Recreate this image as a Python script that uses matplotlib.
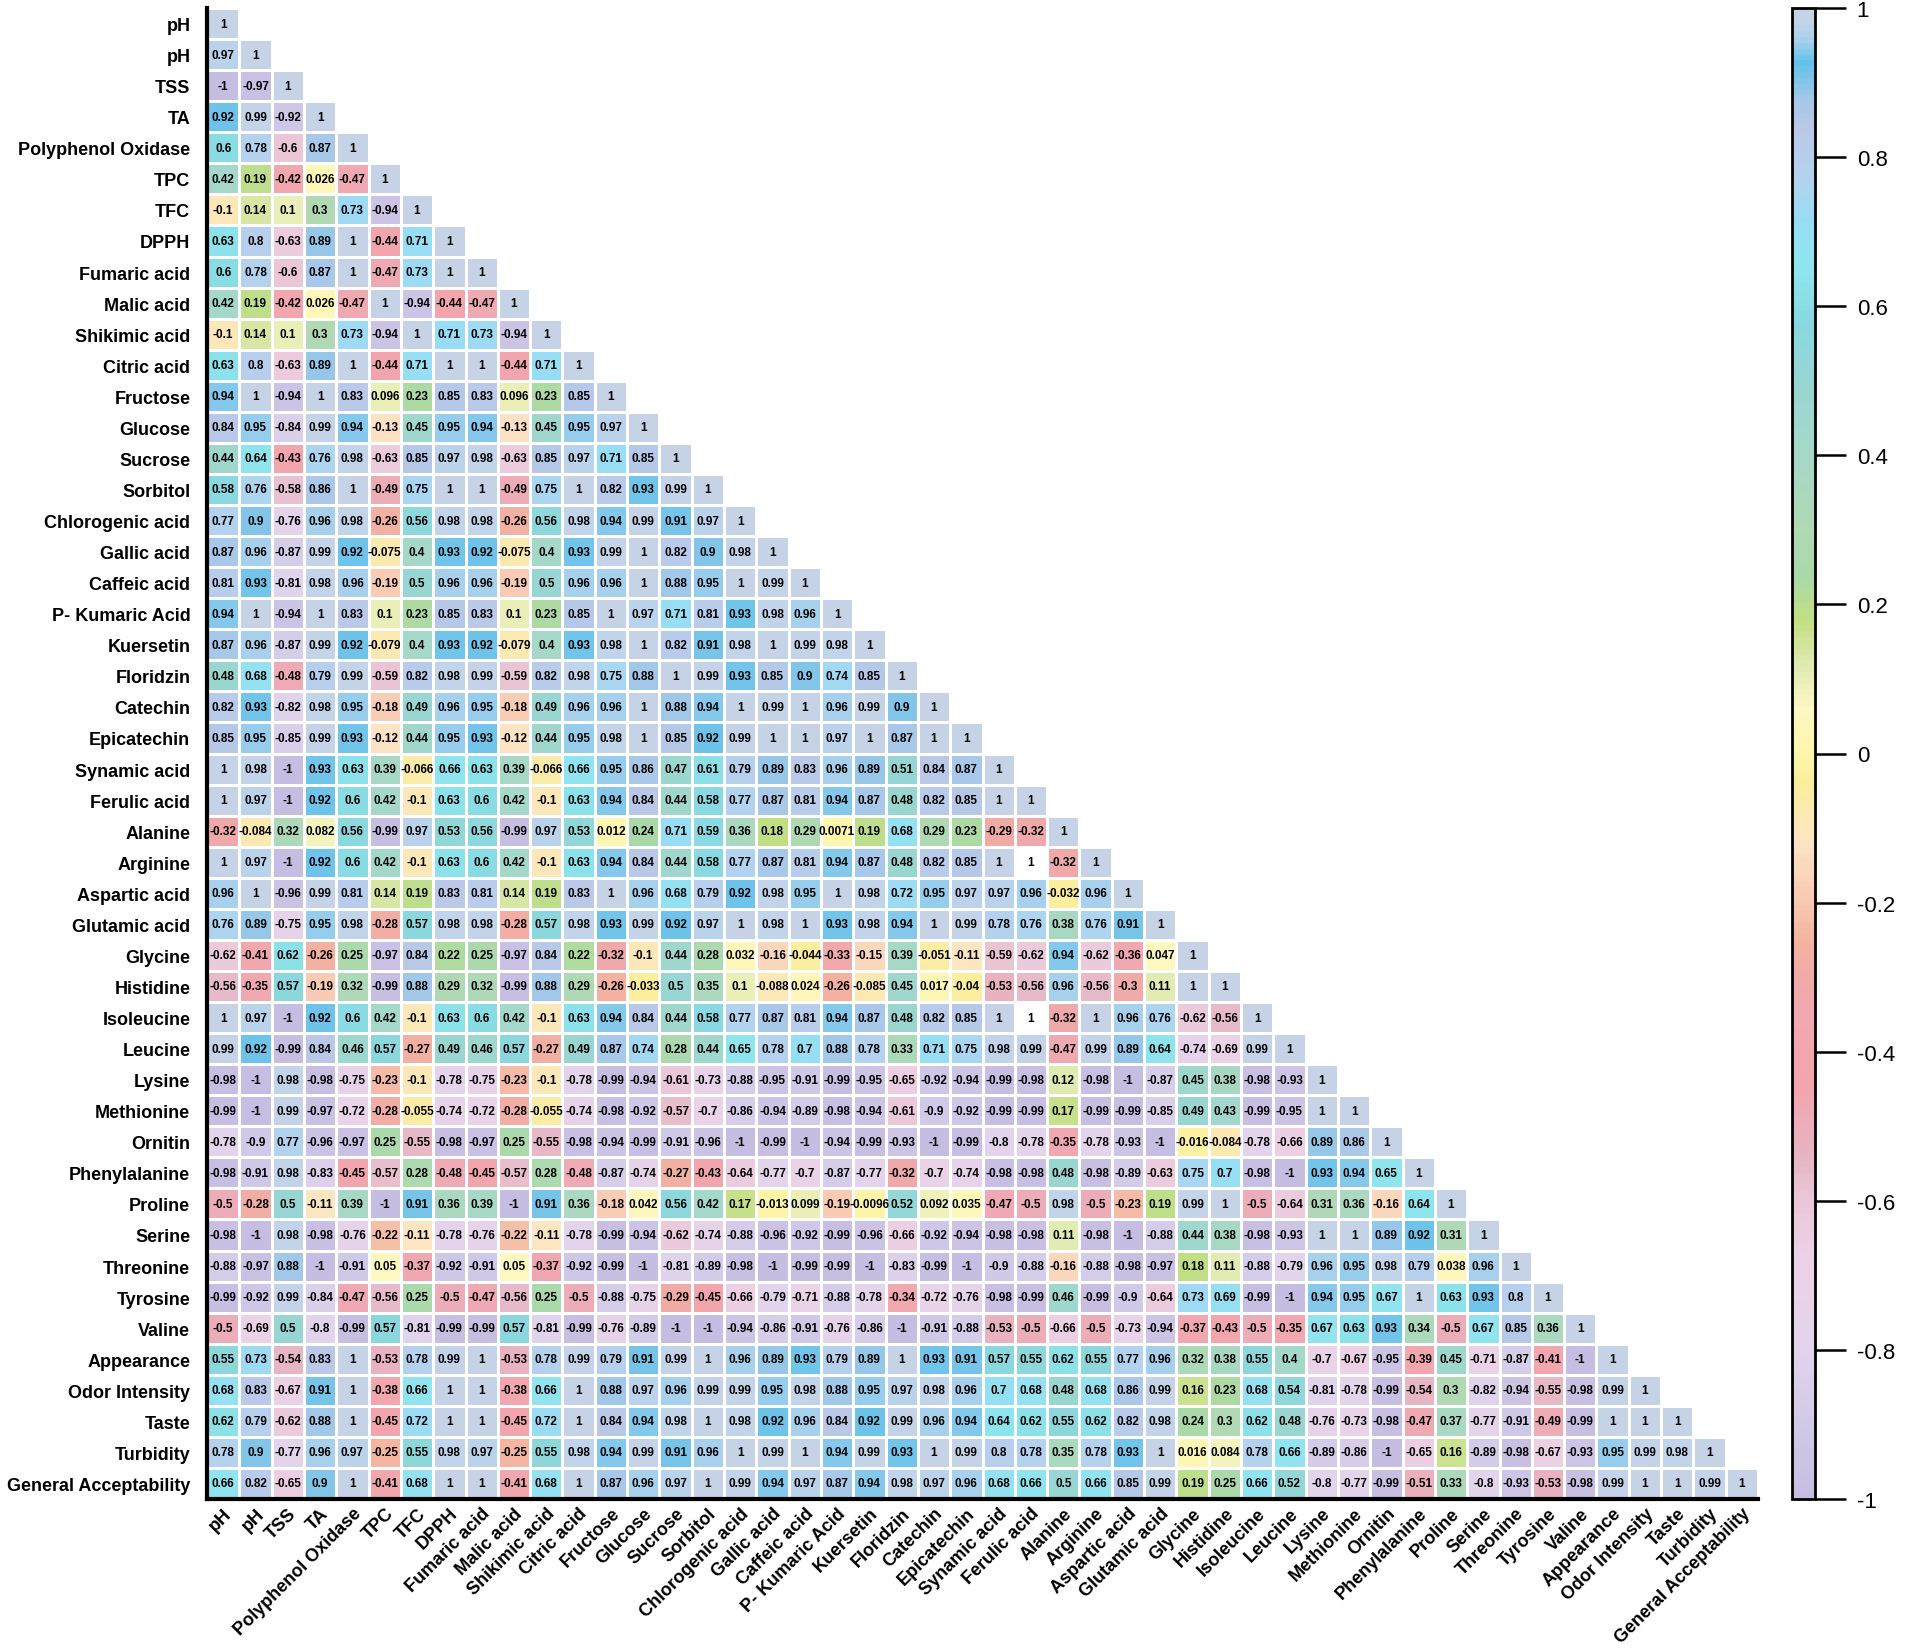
import numpy as np
import matplotlib
matplotlib.use("Agg")
import matplotlib.pyplot as plt
from matplotlib.colors import LinearSegmentedColormap

plt.rcParams['font.family'] = ['Liberation Sans', 'DejaVu Sans']
plt.rcParams['axes.unicode_minus'] = False

labels = ["pH", "pH", "TSS", "TA", "Polyphenol Oxidase", "TPC", "TFC", "DPPH",
          "Fumaric acid", "Malic acid", "Shikimic acid", "Citric acid", "Fructose",
          "Glucose", "Sucrose", "Sorbitol", "Chlorogenic acid", "Gallic acid",
          "Caffeic acid", "P- Kumaric Acid", "Kuersetin", "Floridzin", "Catechin",
          "Epicatechin", "Synamic acid", "Ferulic acid", "Alanine", "Arginine",
          "Aspartic acid", "Glutamic acid", "Glycine", "Histidine", "Isoleucine",
          "Leucine", "Lysine", "Methionine", "Ornitin", "Phenylalanine", "Proline",
          "Serine", "Threonine", "Tyrosine", "Valine", "Appearance", "Odor Intensity",
          "Taste", "Turbidity", "General Acceptability"]

# lower triangle, row by row (diagonal included)
rows_01_12 = [
    [1],
    [0.97, 1],
    [-1, -0.97, 1],
    [0.92, 0.99, -0.92, 1],
    [0.6, 0.78, -0.6, 0.87, 1],
    [0.42, 0.19, -0.42, 0.026, -0.47, 1],
    [-0.1, 0.14, 0.1, 0.3, 0.73, -0.94, 1],
    [0.63, 0.8, -0.63, 0.89, 1, -0.44, 0.71, 1],
    [0.6, 0.78, -0.6, 0.87, 1, -0.47, 0.73, 1, 1],
    [0.42, 0.19, -0.42, 0.026, -0.47, 1, -0.94, -0.44, -0.47, 1],
    [-0.1, 0.14, 0.1, 0.3, 0.73, -0.94, 1, 0.71, 0.73, -0.94, 1],
    [0.63, 0.8, -0.63, 0.89, 1, -0.44, 0.71, 1, 1, -0.44, 0.71, 1],
]

rows_13_24 = [
    [0.94, 1, -0.94, 1, 0.83, 0.096, 0.23, 0.85, 0.83, 0.096, 0.23, 0.85, 1],
    [0.84, 0.95, -0.84, 0.99, 0.94, -0.13, 0.45, 0.95, 0.94, -0.13, 0.45, 0.95, 0.97, 1],
    [0.44, 0.64, -0.43, 0.76, 0.98, -0.63, 0.85, 0.97, 0.98, -0.63, 0.85, 0.97, 0.71, 0.85, 1],
    [0.58, 0.76, -0.58, 0.86, 1, -0.49, 0.75, 1, 1, -0.49, 0.75, 1, 0.82, 0.93, 0.99, 1],
    [0.77, 0.9, -0.76, 0.96, 0.98, -0.26, 0.56, 0.98, 0.98, -0.26, 0.56, 0.98, 0.94, 0.99, 0.91,
     0.97, 1],
    [0.87, 0.96, -0.87, 0.99, 0.92, -0.075, 0.4, 0.93, 0.92, -0.075, 0.4, 0.93, 0.99, 1, 0.82,
     0.9, 0.98, 1],
    [0.81, 0.93, -0.81, 0.98, 0.96, -0.19, 0.5, 0.96, 0.96, -0.19, 0.5, 0.96, 0.96, 1, 0.88,
     0.95, 1, 0.99, 1],
    [0.94, 1, -0.94, 1, 0.83, 0.1, 0.23, 0.85, 0.83, 0.1, 0.23, 0.85, 1, 0.97, 0.71, 0.81,
     0.93, 0.98, 0.96, 1],
    [0.87, 0.96, -0.87, 0.99, 0.92, -0.079, 0.4, 0.93, 0.92, -0.079, 0.4, 0.93, 0.98, 1, 0.82,
     0.91, 0.98, 1, 0.99, 0.98, 1],
    [0.48, 0.68, -0.48, 0.79, 0.99, -0.59, 0.82, 0.98, 0.99, -0.59, 0.82, 0.98, 0.75, 0.88, 1,
     0.99, 0.93, 0.85, 0.9, 0.74, 0.85, 1],
    [0.82, 0.93, -0.82, 0.98, 0.95, -0.18, 0.49, 0.96, 0.95, -0.18, 0.49, 0.96, 0.96, 1, 0.88,
     0.94, 1, 0.99, 1, 0.96, 0.99, 0.9, 1],
    [0.85, 0.95, -0.85, 0.99, 0.93, -0.12, 0.44, 0.95, 0.93, -0.12, 0.44, 0.95, 0.98, 1, 0.85,
     0.92, 0.99, 1, 1, 0.97, 1, 0.87, 1, 1],
]

rows_25_36 = [
    [1, 0.98, -1, 0.93, 0.63, 0.39, -0.066, 0.66, 0.63, 0.39, -0.066, 0.66,
     0.95, 0.86, 0.47, 0.61, 0.79, 0.89, 0.83, 0.96, 0.89, 0.51, 0.84, 0.87, 1],
    [1, 0.97, -1, 0.92, 0.6, 0.42, -0.1, 0.63, 0.6, 0.42, -0.1, 0.63,
     0.94, 0.84, 0.44, 0.58, 0.77, 0.87, 0.81, 0.94, 0.87, 0.48, 0.82, 0.85, 1, 1],
    [-0.32, -0.084, 0.32, 0.082, 0.56, -0.99, 0.97, 0.53, 0.56, -0.99, 0.97, 0.53,
     0.012, 0.24, 0.71, 0.59, 0.36, 0.18, 0.29, 0.0071, 0.19, 0.68, 0.29, 0.23, -0.29, -0.32, 1],
    [1, 0.97, -1, 0.92, 0.6, 0.42, -0.1, 0.63, 0.6, 0.42, -0.1, 0.63,
     0.94, 0.84, 0.44, 0.58, 0.77, 0.87, 0.81, 0.94, 0.87, 0.48, 0.82, 0.85, 1, 1, -0.32, 1],
    [0.96, 1, -0.96, 0.99, 0.81, 0.14, 0.19, 0.83, 0.81, 0.14, 0.19, 0.83,
     1, 0.96, 0.68, 0.79, 0.92, 0.98, 0.95, 1, 0.98, 0.72, 0.95, 0.97, 0.97, 0.96, -0.032, 0.96, 1],
    [0.76, 0.89, -0.75, 0.95, 0.98, -0.28, 0.57, 0.98, 0.98, -0.28, 0.57, 0.98,
     0.93, 0.99, 0.92, 0.97, 1, 0.98, 1, 0.93, 0.98, 0.94, 1, 0.99, 0.78, 0.76, 0.38, 0.76, 0.91, 1],
    [-0.62, -0.41, 0.62, -0.26, 0.25, -0.97, 0.84, 0.22, 0.25, -0.97, 0.84, 0.22,
     -0.32, -0.1, 0.44, 0.28, 0.032, -0.16, -0.044, -0.33, -0.15, 0.39, -0.051, -0.11,
     -0.59, -0.62, 0.94, -0.62, -0.36, 0.047, 1],
    [-0.56, -0.35, 0.57, -0.19, 0.32, -0.99, 0.88, 0.29, 0.32, -0.99, 0.88, 0.29,
     -0.26, -0.033, 0.5, 0.35, 0.1, -0.088, 0.024, -0.26, -0.085, 0.45, 0.017, -0.04,
     -0.53, -0.56, 0.96, -0.56, -0.3, 0.11, 1, 1],
    [1, 0.97, -1, 0.92, 0.6, 0.42, -0.1, 0.63, 0.6, 0.42, -0.1, 0.63,
     0.94, 0.84, 0.44, 0.58, 0.77, 0.87, 0.81, 0.94, 0.87, 0.48, 0.82, 0.85,
     1, 1, -0.32, 1, 0.96, 0.76, -0.62, -0.56, 1],
    [0.99, 0.92, -0.99, 0.84, 0.46, 0.57, -0.27, 0.49, 0.46, 0.57, -0.27, 0.49,
     0.87, 0.74, 0.28, 0.44, 0.65, 0.78, 0.7, 0.88, 0.78, 0.33, 0.71, 0.75,
     0.98, 0.99, -0.47, 0.99, 0.89, 0.64, -0.74, -0.69, 0.99, 1],
    [-0.98, -1, 0.98, -0.98, -0.75, -0.23, -0.1, -0.78, -0.75, -0.23, -0.1, -0.78,
     -0.99, -0.94, -0.61, -0.73, -0.88, -0.95, -0.91, -0.99, -0.95, -0.65, -0.92, -0.94,
     -0.99, -0.98, 0.12, -0.98, -1, -0.87, 0.45, 0.38, -0.98, -0.93, 1],
    [-0.99, -1, 0.99, -0.97, -0.72, -0.28, -0.055, -0.74, -0.72, -0.28, -0.055, -0.74,
     -0.98, -0.92, -0.57, -0.7, -0.86, -0.94, -0.89, -0.98, -0.94, -0.61, -0.9, -0.92,
     -0.99, -0.99, 0.17, -0.99, -0.99, -0.85, 0.49, 0.43, -0.99, -0.95, 1, 1],
]

rows_37_48 = [
    [-0.78, -0.9, 0.77, -0.96, -0.97, 0.25, -0.55, -0.98, -0.97, 0.25, -0.55, -0.98,
     -0.94, -0.99, -0.91, -0.96, -1, -0.99, -1, -0.94, -0.99, -0.93, -1, -0.99,
     -0.8, -0.78, -0.35, -0.78, -0.93, -1, -0.016, -0.084, -0.78, -0.66, 0.89, 0.86, 1],
    [-0.98, -0.91, 0.98, -0.83, -0.45, -0.57, 0.28, -0.48, -0.45, -0.57, 0.28, -0.48,
     -0.87, -0.74, -0.27, -0.43, -0.64, -0.77, -0.7, -0.87, -0.77, -0.32, -0.7, -0.74,
     -0.98, -0.98, 0.48, -0.98, -0.89, -0.63, 0.75, 0.7, -0.98, -1, 0.93, 0.94, 0.65, 1],
    [-0.5, -0.28, 0.5, -0.11, 0.39, -1, 0.91, 0.36, 0.39, -1, 0.91, 0.36,
     -0.18, 0.042, 0.56, 0.42, 0.17, -0.013, 0.099, -0.19, -0.0096, 0.52, 0.092, 0.035,
     -0.47, -0.5, 0.98, -0.5, -0.23, 0.19, 0.99, 1, -0.5, -0.64, 0.31, 0.36, -0.16, 0.64, 1],
    [-0.98, -1, 0.98, -0.98, -0.76, -0.22, -0.11, -0.78, -0.76, -0.22, -0.11, -0.78,
     -0.99, -0.94, -0.62, -0.74, -0.88, -0.96, -0.92, -0.99, -0.96, -0.66, -0.92, -0.94,
     -0.98, -0.98, 0.11, -0.98, -1, -0.88, 0.44, 0.38, -0.98, -0.93, 1, 1, 0.89, 0.92, 0.31, 1],
    [-0.88, -0.97, 0.88, -1, -0.91, 0.05, -0.37, -0.92, -0.91, 0.05, -0.37, -0.92,
     -0.99, -1, -0.81, -0.89, -0.98, -1, -0.99, -0.99, -1, -0.83, -0.99, -1,
     -0.9, -0.88, -0.16, -0.88, -0.98, -0.97, 0.18, 0.11, -0.88, -0.79, 0.96, 0.95,
     0.98, 0.79, 0.038, 0.96, 1],
    [-0.99, -0.92, 0.99, -0.84, -0.47, -0.56, 0.25, -0.5, -0.47, -0.56, 0.25, -0.5,
     -0.88, -0.75, -0.29, -0.45, -0.66, -0.79, -0.71, -0.88, -0.78, -0.34, -0.72, -0.76,
     -0.98, -0.99, 0.46, -0.99, -0.9, -0.64, 0.73, 0.69, -0.99, -1, 0.94, 0.95,
     0.67, 1, 0.63, 0.93, 0.8, 1],
    [-0.5, -0.69, 0.5, -0.8, -0.99, 0.57, -0.81, -0.99, -0.99, 0.57, -0.81, -0.99,
     -0.76, -0.89, -1, -1, -0.94, -0.86, -0.91, -0.76, -0.86, -1, -0.91, -0.88,
     -0.53, -0.5, -0.66, -0.5, -0.73, -0.94, -0.37, -0.43, -0.5, -0.35, 0.67, 0.63,
     0.93, 0.34, -0.5, 0.67, 0.85, 0.36, 1],
    [0.55, 0.73, -0.54, 0.83, 1, -0.53, 0.78, 0.99, 1, -0.53, 0.78, 0.99,
     0.79, 0.91, 0.99, 1, 0.96, 0.89, 0.93, 0.79, 0.89, 1, 0.93, 0.91,
     0.57, 0.55, 0.62, 0.55, 0.77, 0.96, 0.32, 0.38, 0.55, 0.4, -0.7, -0.67,
     -0.95, -0.39, 0.45, -0.71, -0.87, -0.41, -1, 1],
    [0.68, 0.83, -0.67, 0.91, 1, -0.38, 0.66, 1, 1, -0.38, 0.66, 1,
     0.88, 0.97, 0.96, 0.99, 0.99, 0.95, 0.98, 0.88, 0.95, 0.97, 0.98, 0.96,
     0.7, 0.68, 0.48, 0.68, 0.86, 0.99, 0.16, 0.23, 0.68, 0.54, -0.81, -0.78,
     -0.99, -0.54, 0.3, -0.82, -0.94, -0.55, -0.98, 0.99, 1],
    [0.62, 0.79, -0.62, 0.88, 1, -0.45, 0.72, 1, 1, -0.45, 0.72, 1,
     0.84, 0.94, 0.98, 1, 0.98, 0.92, 0.96, 0.84, 0.92, 0.99, 0.96, 0.94,
     0.64, 0.62, 0.55, 0.62, 0.82, 0.98, 0.24, 0.3, 0.62, 0.48, -0.76, -0.73,
     -0.98, -0.47, 0.37, -0.77, -0.91, -0.49, -0.99, 1, 1, 1],
    [0.78, 0.9, -0.77, 0.96, 0.97, -0.25, 0.55, 0.98, 0.97, -0.25, 0.55, 0.98,
     0.94, 0.99, 0.91, 0.96, 1, 0.99, 1, 0.94, 0.99, 0.93, 1, 0.99,
     0.8, 0.78, 0.35, 0.78, 0.93, 1, 0.016, 0.084, 0.78, 0.66, -0.89, -0.86,
     -1, -0.65, 0.16, -0.89, -0.98, -0.67, -0.93, 0.95, 0.99, 0.98, 1],
    [0.66, 0.82, -0.65, 0.9, 1, -0.41, 0.68, 1, 1, -0.41, 0.68, 1,
     0.87, 0.96, 0.97, 1, 0.99, 0.94, 0.97, 0.87, 0.94, 0.98, 0.97, 0.96,
     0.68, 0.66, 0.5, 0.66, 0.85, 0.99, 0.19, 0.25, 0.66, 0.52, -0.8, -0.77,
     -0.99, -0.51, 0.33, -0.8, -0.93, -0.53, -0.98, 0.99, 1, 1, 0.99, 1],
]

# cells left uncoloured in the original (row, column)
blank_cells = [("Arginine", "Ferulic acid"), ("Isoleucine", "Ferulic acid")]

rows = rows_01_12 + rows_13_24 + rows_25_36 + rows_37_48
n = len(labels)
mat = np.full((n, n), np.nan)
for i, r in enumerate(rows):
    mat[i, :len(r)] = r

# pastel palette like the original
anchors = [(-1.0, '#c6bde2'), (-0.9, '#d2cae8'), (-0.8, '#e2d4ec'), (-0.68, '#ecd2e6'),
           (-0.6, '#eac6d6'), (-0.54, '#e6b4c2'), (-0.45, '#f3a5ad'), (-0.35, '#f1a8b0'),
           (-0.3, '#f0aaa8'), (-0.25, '#f4b4a0'), (-0.2, '#f8c8b0'), (-0.12, '#fce4c4'),
           (-0.04, '#fbee9c'), (0.0, '#fff6ac'), (0.06, '#fdf8c4'), (0.12, '#dfeab0'),
           (0.18, '#c2df82'), (0.24, '#a9d9a8'), (0.3, '#b0d9b4'), (0.4, '#a6d8c8'),
           (0.5, '#98d6d2'), (0.58, '#88d8e0'), (0.65, '#8ee6ee'), (0.72, '#98dcf4'),
           (0.78, '#b4d2ee'), (0.84, '#bcc8e8'), (0.88, '#a4c8e8'), (0.93, '#62c2ea'),
           (0.96, '#a6d0ec'), (0.98, '#c0d4ea'), (1.0, '#c6d3e7')]
cmap = LinearSegmentedColormap.from_list('pastel', [((v + 1) / 2, c) for v, c in anchors])
cmap.set_bad('white')

colour_mat = mat.copy()
for rl, cl in blank_cells:
    colour_mat[labels.index(rl), labels.index(cl)] = np.nan

fig = plt.figure(figsize=(19.05, 16.49), dpi=100)
ax = fig.add_axes([207 / 1905, 1 - 1500 / 1649, 1551 / 1905, 1491 / 1649])
mesh = ax.pcolormesh(np.arange(n + 1), np.arange(n + 1), np.ma.masked_invalid(colour_mat),
                     cmap=cmap, vmin=-1, vmax=1, edgecolors='white', linewidth=1.0)
ax.set_xlim(0, n)
ax.set_ylim(n, 0)

for i in range(n):
    for j in range(i + 1):
        ax.text(j + 0.5, i + 0.5, f"{mat[i, j]:g}", ha='center', va='center',
                fontsize=8.5, fontweight='bold', color='black')

ax.set_yticks(np.arange(n) + 0.5)
ax.set_yticklabels(labels, fontsize=13, fontweight='bold')
ax.set_xticks(np.arange(n) + 0.5)
ax.set_xticklabels(labels, fontsize=13, fontweight='bold', rotation=45,
                   ha='right', rotation_mode='anchor')
ax.tick_params(axis='y', length=0, pad=12)
ax.tick_params(axis='x', length=0, pad=4)
for s in ['top', 'right']:
    ax.spines[s].set_visible(False)
for s in ['left', 'bottom']:
    ax.spines[s].set_linewidth(3)

cax = fig.add_axes([1792 / 1905, 1 - 1500 / 1649, 23 / 1905, 1491 / 1649])
cb = fig.colorbar(mesh, cax=cax)
cb.set_ticks([-1, -0.8, -0.6, -0.4, -0.2, 0, 0.2, 0.4, 0.6, 0.8, 1])
cb.set_ticklabels([f"{t:g}" for t in [-1, -0.8, -0.6, -0.4, -0.2, 0, 0.2, 0.4, 0.6, 0.8, 1]])
cb.ax.tick_params(length=22, width=1.8, labelsize=16, pad=8)
cb.outline.set_linewidth(2)

fig.savefig("out.png", dpi=100)
